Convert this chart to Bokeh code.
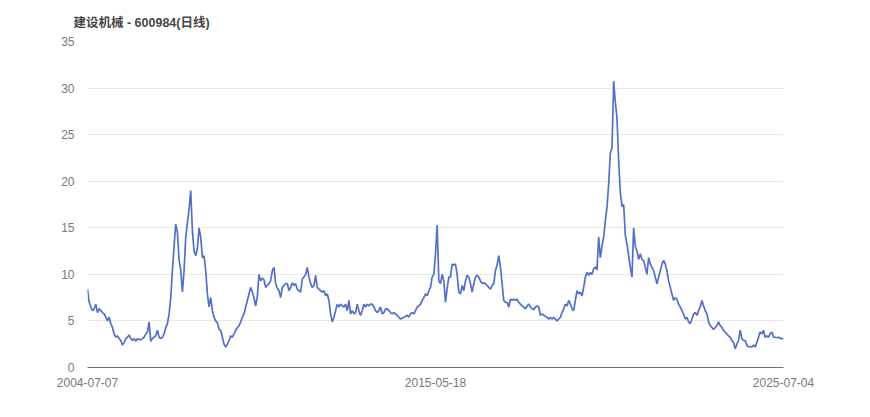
from bokeh.plotting import figure
from bokeh.models import FixedTicker
from bokeh.embed import file_html
from bokeh.resources import INLINE

title_text = "建设机械 - 600984(日线)"
tick_labels = ["2004-07-07", "2015-05-18", "2025-07-04"]
y_ticks = [0, 5, 10, 15, 20, 25, 30, 35]

seg1 = [8.4, 7.0, 6.5, 6.1, 6.3, 6.8, 5.9, 6.3, 6.1, 5.9,
        5.75, 5.4, 5.0, 5.4, 4.7, 4.3, 3.6, 3.25, 3.4, 3.1,
        2.9, 2.4, 2.7, 3.1, 3.25, 3.5, 3.1, 2.9, 3.1, 2.8,
        3.1, 3.0, 3.0, 3.1, 3.25, 3.6, 3.8, 4.9, 2.8, 3.1,
        3.25, 3.4, 4.0, 3.25, 3.1, 3.25, 3.6, 4.3, 4.7, 5.75,
        7.5, 10.5, 13.0, 15.4, 14.5, 11.5, 10.5, 8.1, 10.4, 14.0]
seg2 = [15.5, 17.0, 19.0, 14.7, 12.5, 12.0, 12.8, 15.0, 14.0, 11.8,
        12.0, 10.4, 7.9, 6.5, 7.5, 6.1, 5.4, 5.0, 4.8, 4.1,
        4.0, 3.25, 2.5, 2.2, 2.5, 2.9, 3.4, 3.25, 3.6, 4.0,
        4.3, 4.5, 4.9, 5.4, 5.75, 6.5, 7.2, 7.9, 8.6, 8.1,
        7.5, 6.6, 7.6, 10.0, 9.3, 9.6, 9.4, 8.6, 8.8, 9.0,
        9.3, 10.4, 10.75, 9.0, 8.5, 8.25, 7.5, 8.6, 8.8, 9.0]
seg3 = [9.0, 8.25, 8.6, 9.1, 8.8, 9.0, 8.4, 8.25, 8.1, 9.5,
        9.7, 10.0, 10.75, 9.7, 9.0, 8.6, 8.8, 9.9, 8.6, 8.4,
        8.25, 8.1, 8.25, 7.7, 7.9, 7.2, 5.75, 4.9, 5.4, 6.1,
        6.8, 6.5, 6.8, 6.6, 6.5, 6.8, 6.1, 7.2, 5.75, 6.1,
        5.75, 5.9, 6.8, 6.1, 5.6, 6.1, 6.8, 6.5, 6.8, 6.6,
        6.8, 6.8, 6.5, 6.1, 5.9, 6.1, 6.5, 5.75, 5.9, 6.3]
seg4 = [6.3, 6.1, 5.9, 5.75, 5.9, 5.75, 5.6, 5.4, 5.2, 5.3,
        5.4, 5.5, 5.6, 5.4, 5.75, 5.9, 5.75, 6.1, 6.5, 6.6,
        6.8, 7.2, 7.5, 7.9, 7.7, 8.25, 8.6, 9.7, 10.0, 12.2,
        15.3, 9.3, 9.0, 10.0, 9.3, 7.0, 8.5, 9.7, 9.7, 11.1,
        11.0, 11.1, 10.0, 8.1, 7.9, 8.8, 8.25, 9.3, 9.9, 9.7,
        9.0, 8.1, 9.0, 9.7, 9.9, 9.7, 9.3, 9.0, 9.1, 9.0]
seg5 = [8.8, 8.6, 8.4, 8.8, 9.0, 10.4, 11.0, 12.0, 10.8, 9.0,
        7.2, 7.0, 7.0, 6.5, 7.35, 7.2, 7.35, 7.2, 7.35, 7.0,
        6.8, 6.6, 6.5, 6.3, 6.6, 6.8, 6.5, 6.3, 6.2, 6.5,
        6.6, 6.5, 5.6, 5.75, 5.6, 5.5, 5.4, 5.2, 5.4, 5.2,
        5.4, 5.2, 5.0, 5.2, 5.4, 5.9, 6.3, 6.8, 6.6, 7.2,
        6.8, 6.3, 6.1, 7.2, 8.25, 7.9, 8.1, 7.7, 8.6, 9.7]
seg6 = [10.2, 9.9, 10.2, 10.0, 10.6, 10.8, 10.5, 14.0, 11.8, 13.0,
        14.0, 15.75, 17.2, 19.7, 23.0, 23.6, 30.75, 28.5, 26.8, 22.2,
        18.8, 17.3, 17.5, 14.2, 13.25, 12.0, 10.75, 9.7, 15.0, 13.0,
        12.5, 11.6, 12.2, 11.6, 11.5, 10.75, 10.0, 11.8, 11.1, 10.75,
        10.4, 9.7, 9.0, 9.7, 10.4, 11.1, 11.5, 11.1, 10.4, 9.3,
        8.6, 7.9, 7.2, 7.5, 7.35, 6.8, 6.5, 6.1, 5.75, 5.2]
seg7 = [5.4, 4.9, 4.7, 5.2, 5.75, 5.9, 5.6, 6.1, 6.5, 7.2,
        6.6, 6.1, 5.75, 4.9, 4.5, 4.3, 4.1, 4.3, 4.5, 4.9,
        4.5, 4.3, 4.0, 3.8, 3.6, 3.4, 3.25, 2.9, 2.7, 2.0,
        2.5, 2.9, 4.0, 3.1, 2.9, 2.9, 2.4, 2.2, 2.25, 2.2,
        2.4, 2.2, 2.7, 3.25, 3.8, 3.6, 4.0, 3.25, 3.4, 3.25,
        3.6, 3.8, 3.25, 3.25, 3.2, 3.25, 3.15, 3.1, 3.1]

close = seg1 + seg2 + seg3 + seg4 + seg5 + seg6 + seg7
idx = list(range(len(close)))
n = len(close)
tick_pos = [0, (n - 1) // 2, n - 1]

p = figure(width=854, height=400, output_backend="svg", toolbar_location=None,
           x_range=(0, n - 1), y_range=(0, 35),
           min_border_left=87, min_border_right=71, min_border_top=41, min_border_bottom=33)
p.outline_line_color = None
p.background_fill_color = "white"
p.border_fill_color = "white"

p.title.text = title_text
p.title.align = "left"
p.title.offset = -14
p.title.standoff = 24
p.title.text_font = "Liberation Sans, Noto Sans CJK SC"
p.title.text_font_size = "12.5px"
p.title.text_font_style = "bold"
p.title.text_color = "#464646"

p.line(idx, close, line_color="#5470c6", line_width=1.7)

lab_font = "Liberation Sans"
lab_color = "#7a7a7a"
p.yaxis.ticker = FixedTicker(ticks=y_ticks)
p.yaxis.axis_line_color = None
p.yaxis.major_tick_line_color = None
p.yaxis.minor_tick_line_color = None
p.yaxis.major_label_text_color = lab_color
p.yaxis.major_label_text_font = lab_font
p.yaxis.major_label_text_font_size = "12px"
p.yaxis.major_label_standoff = 7

p.xaxis.ticker = FixedTicker(ticks=tick_pos)
p.xaxis.major_label_overrides = {tick_pos[i]: tick_labels[i] for i in range(3)}
p.xaxis.axis_line_color = "#6e7079"
p.xaxis.major_tick_line_color = None
p.xaxis.minor_tick_line_color = None
p.xaxis.major_label_text_color = lab_color
p.xaxis.major_label_text_font = lab_font
p.xaxis.major_label_text_font_size = "12px"
p.xaxis.major_label_standoff = 4

p.xgrid.grid_line_color = None
p.ygrid.grid_line_color = "#e8e8e8"
p.ygrid.grid_line_width = 1

open("out.html", "w").write(file_html(p, INLINE))
